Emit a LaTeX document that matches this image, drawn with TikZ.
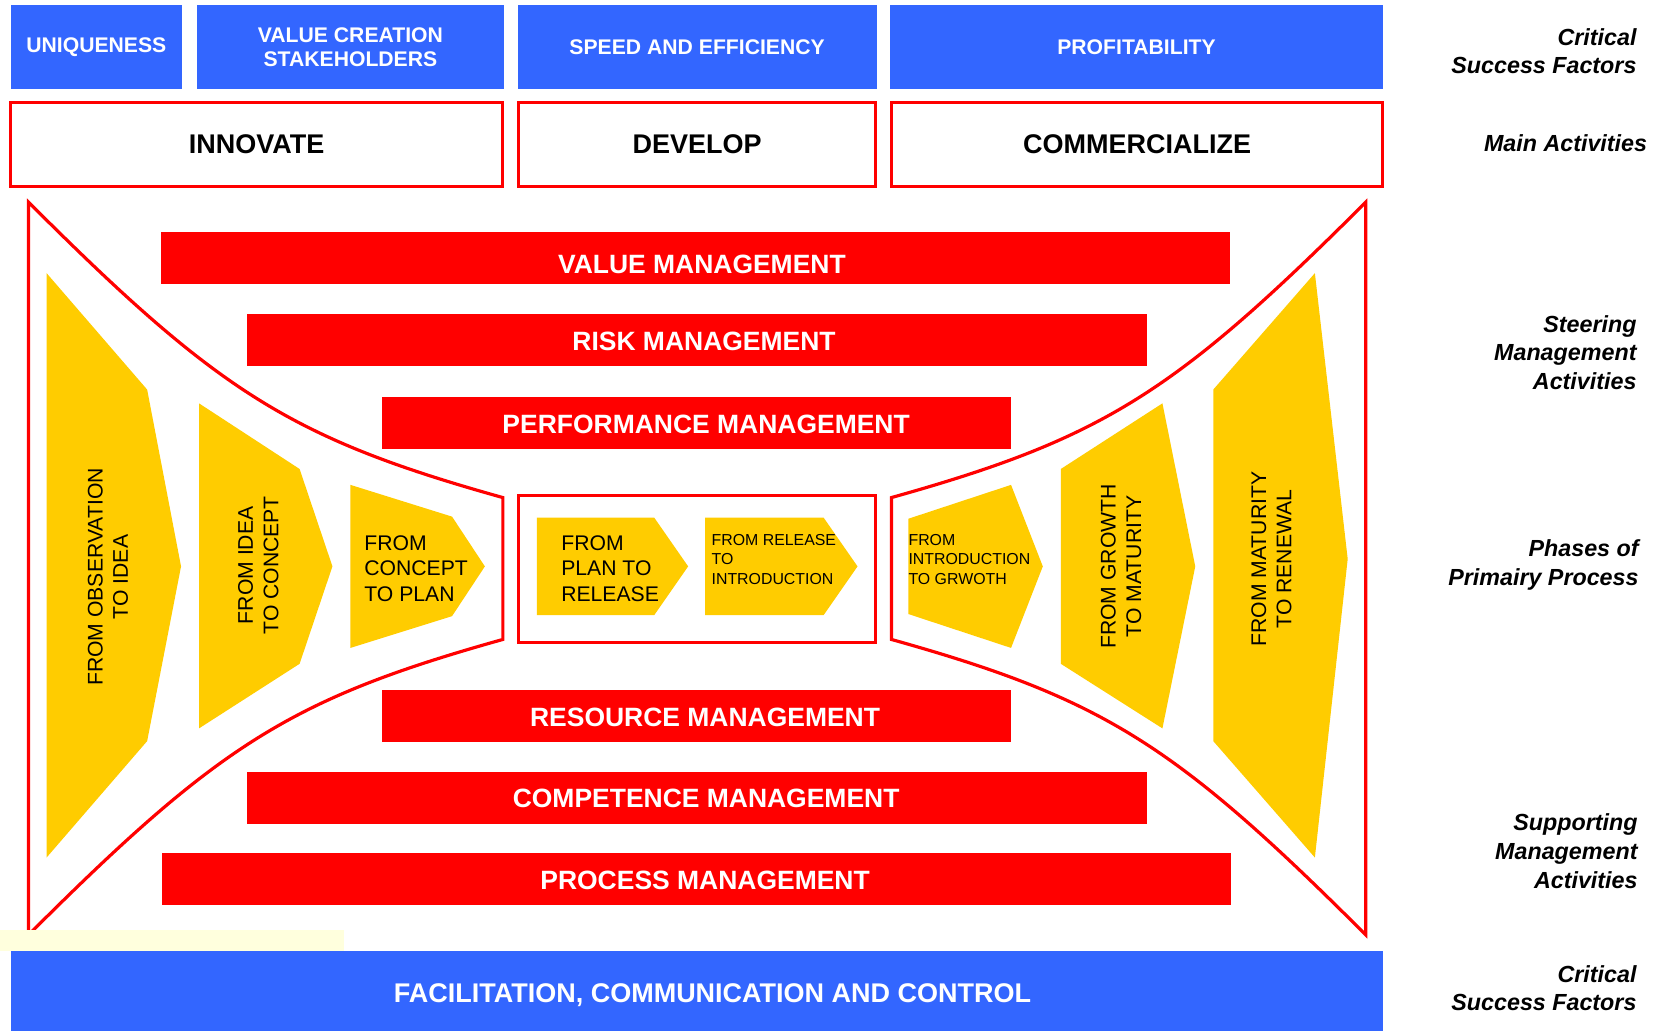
\documentclass[tikz,border=0pt]{standalone}
\usepackage{fontspec}
\setmainfont{Liberation Sans}
\definecolor{cblue}{HTML}{3366FF}
\definecolor{cred}{HTML}{FF0000}
\definecolor{cyel}{HTML}{FFCC00}
\definecolor{cpale}{HTML}{FFFFDD}
\begin{document}
\begin{tikzpicture}[x=1pt,y=-1pt,
 bluebox/.style={fill=cblue, draw=none, text=white, font=\fontsize{20}{23}\selectfont\bfseries, align=center, inner sep=0pt},
 actbox/.style={draw=cred, line width=3pt, fill=white, font=\fontsize{25.5}{28}\selectfont\bfseries, inner sep=0pt, minimum height=79pt},
 redbar/.style={fill=cred, inner sep=0pt, minimum height=49pt},
 bartext/.style={text=white, font=\fontsize{25}{30}\selectfont\bfseries, inner sep=0pt},
 side/.style={anchor=east, align=right, font=\fontsize{22}{27}\selectfont\bfseries\itshape, inner sep=0pt},
 funnel/.style={draw=cred, line width=3pt, line join=miter},
 ptext/.style={font=\fontsize{20}{24}\selectfont, align=left, anchor=west, inner sep=0pt},
 psmall/.style={font=\fontsize{15}{18.5}\selectfont, align=left, anchor=west, inner sep=0pt},
 vtext/.style={font=\fontsize{20}{24}\selectfont, align=center, rotate=90, inner sep=0pt}
]
\useasboundingbox (0,0) rectangle (1568,974);
\fill[white] (0,0) rectangle (1568,974);

% top critical success factors
\node[bluebox, minimum width=162pt, minimum height=79pt] (uniq) at (91,44.5) {UNIQUENESS};
\node[bluebox, minimum width=290pt, minimum height=79pt] (valc) at (331,44.5) {VALUE CREATION\\STAKEHOLDERS};
\node[bluebox, minimum width=339pt, minimum height=79pt] (speed) at (658.5,44.5) {SPEED AND EFFICIENCY};
\node[bluebox, minimum width=465pt, minimum height=79pt] (prof) at (1073.5,44.5) {PROFITABILITY};

% main activities
\node[actbox, minimum width=465pt] (innov) at (242.5,136.5) {INNOVATE};
\node[actbox, minimum width=337pt] (dev) at (658.5,136.5) {DEVELOP};
\node[actbox, minimum width=464pt] (comm) at (1074,136.5) {COMMERCIALIZE};

% funnels
\draw[funnel] (27,191) .. controls (207,371) and (275,414) .. (475,470) -- (475,604)
   .. controls (275,660) and (207,703) .. (27,883) -- cycle;
\draw[funnel] (1290,191) .. controls (1110,371) and (1042,414) .. (842,470) -- (842,604)
   .. controls (1042,660) and (1110,703) .. (1290,883) -- cycle;
\node[draw=cred, line width=3pt, minimum width=337pt, minimum height=139pt, inner sep=0pt] (center) at (658.5,537.5) {};

% steering bars
\node[redbar, minimum width=1010pt] (vm) at (657,243.5) {};
\node[bartext] (vmt) at (663,250) {VALUE MANAGEMENT};
\node[redbar, minimum width=850pt] (rm) at (658,321.5) {};
\node[bartext] (rmt) at (665,322.5) {RISK MANAGEMENT};
\node[redbar, minimum width=594pt] (pm) at (658,399.5) {};
\node[bartext] (pmt) at (667,400.5) {PERFORMANCE MANAGEMENT};
% supporting bars
\node[redbar, minimum width=594pt] (resm) at (658,676.5) {};
\node[bartext] (resmt) at (666,677.5) {RESOURCE MANAGEMENT};
\node[redbar, minimum width=850pt] (cm) at (658,753.5) {};
\node[bartext] (cmt) at (667,754.5) {COMPETENCE MANAGEMENT};
\node[redbar, minimum width=1010pt] (prm) at (658,830.5) {};
\node[bartext] (prmt) at (666,831.5) {PROCESS MANAGEMENT};

% phases (left)
\fill[cyel] (44,258) -- (139,368) -- (171,535) -- (139,700) -- (44,810) -- cycle;
\node[vtext] (p1) at (102,545) {FROM OBSERVATION\\TO IDEA};
\fill[cyel] (188,381) -- (283,443) -- (314,535) -- (283,627) -- (188,688) -- cycle;
\node[vtext] (p2) at (244,534) {FROM IDEA\\TO CONCEPT};
\fill[cyel] (331,458) -- (427,488) -- (458,535) -- (427,582) -- (331,612) -- cycle;
\node[ptext] (p3) at (344,537) {FROM\\CONCEPT\\TO PLAN};
% phases (center)
\fill[cyel] (507,489) -- (618,489) -- (650,535) -- (618,581) -- (507,581) -- cycle;
\node[ptext] (p4) at (530,537) {FROM\\PLAN TO\\RELEASE};
\fill[cyel] (666,489) -- (778,489) -- (810,535) -- (778,581) -- (666,581) -- cycle;
\node[psmall] (p5) at (672,528.5) {FROM RELEASE\\TO\\INTRODUCTION};
% phases (right)
\fill[cyel] (858,490) -- (955,458) -- (985,535) -- (955,612) -- (858,580) -- cycle;
\node[psmall] (p6) at (858,528.5) {FROM\\INTRODUCTION\\TO GRWOTH};
\fill[cyel] (1002,443) -- (1098,381) -- (1129,535) -- (1098,688) -- (1002,627) -- cycle;
\node[vtext] (p7) at (1059,535) {FROM GROWTH\\TO MATURITY};
\fill[cyel] (1146,368) -- (1242,258) -- (1273,528) -- (1242,810) -- (1146,700) -- cycle;
\node[vtext] (p8) at (1201,528) {FROM MATURITY\\TO RENEWAL};

% bottom
\fill[cpale] (0,878) rectangle (325,898);
\node[fill=cblue, inner sep=0pt, minimum width=1296pt, minimum height=76pt] (fcc) at (658,936) {};
\node[text=white, font=\fontsize{25.5}{28}\selectfont\bfseries, inner sep=0pt] (fcct) at (673,940) {FACILITATION, COMMUNICATION AND CONTROL};

% side labels
\node[side] (s1) at (1546,48.5) {Critical\\Success Factors};
\node[side] (s2) at (1556,135) {Main Activities};
\node[side] (s3) at (1546,333) {Steering\\Management\\Activities};
\node[side] (s4) at (1548,533.5) {Phases of\\Primairy Process};
\node[side] (s5) at (1547,804) {Supporting\\Management\\Activities};
\node[side] (s6) at (1546,933.5) {Critical\\Success Factors};
\end{tikzpicture}
\end{document}
